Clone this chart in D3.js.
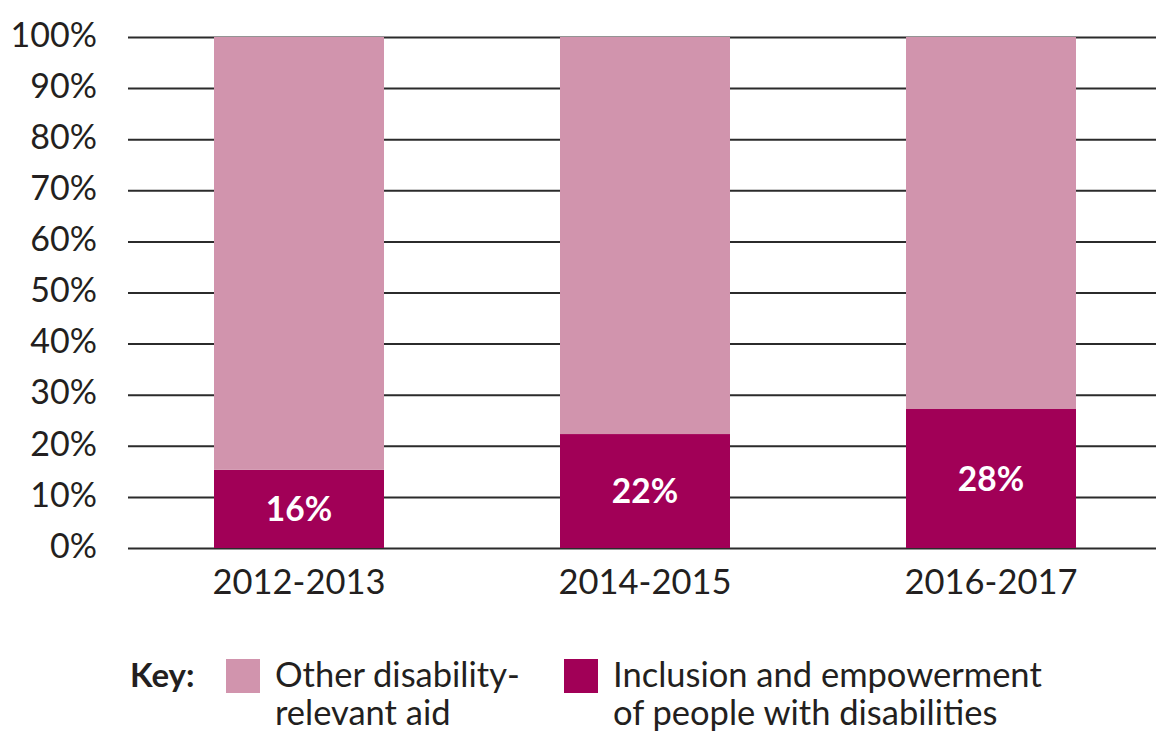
<!DOCTYPE html>
<html>
<head>
<meta charset="utf-8">
<script src="https://cdn.jsdelivr.net/npm/d3@7"></script>
<style>
  html, body { margin: 0; padding: 0; background: #fff; }
  svg { display: block; font-family: Lato, "Open Sans", sans-serif; }
</style>
</head>
<body>
<svg id="chart" width="1156" height="733"></svg>
<script>
const periods = ["2012-2013", "2014-2015", "2016-2017"];
const inclusionValues = [15.3, 22.3, 27.2];
const inclusionLabels = ["16%", "22%", "28%"];
const otherValues = [84.7, 77.7, 72.8];
const yTicks = [0, 10, 20, 30, 40, 50, 60, 70, 80, 90, 100];
const seriesNames = ["Other disability-relevant aid", "Inclusion and empowerment of people with disabilities"];
const legendLines = [["Other disability-", "relevant aid"], ["Inclusion and empowerment", "of people with disabilities"]];
const colors = ["#d194ad", "#a10057"];

const svg = d3.select("#chart");
const textColor = "#231f20";
const fontFamily = 'Lato, "Open Sans", sans-serif';

const x = d3.scaleBand().domain(periods).range([126, 1164]).paddingInner(0.5087).paddingOuter(0.5087 / 2);
const y = d3.scaleLinear().domain([0, 100]).range([548, 37]);

// gridlines + y tick labels
const yAxis = d3.axisLeft(y).tickValues(yTicks).tickFormat(d => d + "%").tickSize(-(1156 - 128)).tickPadding(31);
const gy = svg.append("g").attr("transform", "translate(128,0)").call(yAxis)
  .attr("font-family", fontFamily);
gy.select(".domain").remove();
gy.selectAll(".tick line").attr("stroke", "#2b2b2b").attr("stroke-width", 2);
gy.selectAll(".tick text")
  .attr("fill", textColor)
  .attr("font-size", 34)
  .attr("dy", "0.30em")
  .attr("y", -1);

// stacked bars
const rows = periods.map((p, i) => ({ period: p, inclusion: inclusionValues[i], other: otherValues[i] }));
const stack = d3.stack().keys(["inclusion", "other"]);
const layers = stack(rows);
const layerColor = { inclusion: colors[1], other: colors[0] };

svg.append("g").selectAll("g").data(layers).join("g")
  .attr("fill", d => layerColor[d.key])
  .selectAll("rect").data(d => d).join("rect")
  .attr("x", d => x(d.data.period))
  .attr("width", x.bandwidth())
  .attr("y", d => y(d[1]))
  .attr("height", d => y(d[0]) - y(d[1]));

// value labels
svg.append("g").selectAll("text").data(rows).join("text")
  .attr("x", d => x(d.period) + x.bandwidth() / 2)
  .attr("y", d => (y(0) + y(d.inclusion)) / 2)
  .attr("dy", "0.36em")
  .attr("text-anchor", "middle")
  .attr("fill", "#fff")
  .attr("font-weight", 700)
  .attr("font-size", 33.5)
  .text((d, i) => inclusionLabels[i]);

// x axis labels
const xAxis = d3.axisBottom(x).tickSize(0).tickPadding(0);
const gx = svg.append("g").attr("transform", "translate(0,594)").call(xAxis)
  .attr("font-family", fontFamily);
gx.select(".domain").remove();
gx.selectAll(".tick text").attr("fill", textColor).attr("font-size", 34.5).attr("dy", 0).attr("y", 0);

// legend
const legend = svg.append("g");
legend.append("text").attr("x", 130).attr("y", 687).attr("font-size", 33).attr("font-weight", 700)
  .attr("fill", textColor).text("Key:");
const legendX = [226, 564];
seriesNames.forEach((name, i) => {
  const g = legend.append("g").attr("transform", `translate(${legendX[i]},0)`);
  g.append("rect").attr("x", 0).attr("y", 659).attr("width", 34).attr("height", 34).attr("fill", colors[i]);
  const t = g.append("text").attr("x", 49).attr("y", 687).attr("font-size", 34.5).attr("fill", textColor);
  legendLines[i].forEach((line, j) => {
    t.append("tspan").attr("x", 49).attr("y", 687 + j * 38).text(line);
  });
});
</script>
</body>
</html>
